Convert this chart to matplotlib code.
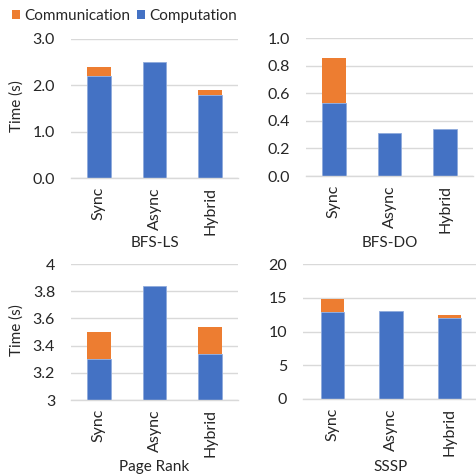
import matplotlib
matplotlib.use("Agg")
import matplotlib.pyplot as plt
from matplotlib.patches import Patch

plt.rcParams['font.family'] = ['Lato', 'DejaVu Sans']

categories = ["Sync", "Async", "Hybrid"]
titles = ["BFS-LS", "BFS-DO", "Page Rank", "SSSP"]
computation = [
    [2.20, 2.50, 1.79],
    [0.53, 0.31, 0.34],
    [3.30, 3.84, 3.34],
    [12.95, 13.08, 12.05],
]
communication = [
    [0.20, 0.0, 0.10],
    [0.33, 0.0, 0.0],
    [0.20, 0.0, 0.20],
    [1.85, 0.0, 0.35],
]
yticks = [
    [0.0, 1.0, 2.0, 3.0],
    [0.0, 0.2, 0.4, 0.6, 0.8, 1.0],
    [3.0, 3.2, 3.4, 3.6, 3.8, 4.0],
    [0, 5, 10, 15, 20],
]
yticklabels = [
    ["0.0", "1.0", "2.0", "3.0"],
    ["0.0", "0.2", "0.4", "0.6", "0.8", "1.0"],
    ["3", "3.2", "3.4", "3.6", "3.8", "4"],
    ["0", "5", "10", "15", "20"],
]
ylabels = ["Time (s)", "", "Time (s)", ""]

BLUE = "#4472C4"
ORANGE = "#ED7D31"
GRID = "#D9D9D9"
TXT = "#262626"
FS = 11
TFS = 11.5

W, H = 476, 475
fig = plt.figure(figsize=(W / 100, H / 100), dpi=100)

# pixel boxes: (x0, x1, ytop, ybottom, xlabel_baseline)
boxes = [
    (71, 238, 39, 178, 247),
    (306, 473, 38.3, 176, 247),
    (71, 238, 264, 400, 471),
    (303, 479, 264, 399, 471),
]
widths = [0.42, 0.42, 0.42, 0.40]

for i, (x0, x1, yt, yb, ly) in enumerate(boxes):
    ax = fig.add_axes([x0 / W, 1 - yb / H, (x1 - x0) / W, (yb - yt) / H])
    xs = range(len(categories))
    ax.bar(xs, computation[i], width=widths[i], color=BLUE, edgecolor="#8FAADC",
           linewidth=0.6, zorder=3)
    ax.bar(xs, communication[i], bottom=computation[i], width=widths[i],
           color=ORANGE, linewidth=0, zorder=3)
    ax.set_xlim(-0.5, 2.5)
    ax.set_ylim(yticks[i][0], yticks[i][-1])
    ax.set_yticks(yticks[i])
    ax.set_yticklabels(yticklabels[i])
    ax.set_xticks(list(xs))
    ax.set_xticklabels(categories, rotation=90)
    for s in ["top", "right", "left"]:
        ax.spines[s].set_visible(False)
    ax.spines["bottom"].set_color(GRID)
    ax.spines["bottom"].set_linewidth(1.0)
    ax.spines["bottom"].set_zorder(4)
    ax.yaxis.grid(True, color=GRID, linewidth=1.0, zorder=0)
    ax.set_axisbelow(True)
    ax.tick_params(axis="y", length=0, pad=11.5, labelsize=TFS, labelcolor=TXT)
    ax.tick_params(axis="x", length=0, pad=6.5, labelsize=TFS, labelcolor=TXT)
    fig.text((x0 + x1) / 2 / W, 1 - ly / H, titles[i], fontsize=FS, color=TXT,
             ha="center", va="baseline")
    if ylabels[i]:
        fig.text(17 / W, 1 - ((yt + yb) / 2 - 2) / H, ylabels[i], fontsize=FS,
                 color=TXT, rotation=90, ha="center", va="center")

handles = [Patch(facecolor=ORANGE, label="Communication"),
           Patch(facecolor=BLUE, label="Computation")]
fig.legend(handles=handles, loc="upper left", bbox_to_anchor=(12 / W, 1 - 9 / H),
           ncol=2, frameon=False, fontsize=FS, handlelength=0.5,
           handleheight=0.5, handletextpad=0.3, columnspacing=0.45,
           borderpad=0, borderaxespad=0, labelcolor=TXT)

fig.savefig("out.png", dpi=100)
